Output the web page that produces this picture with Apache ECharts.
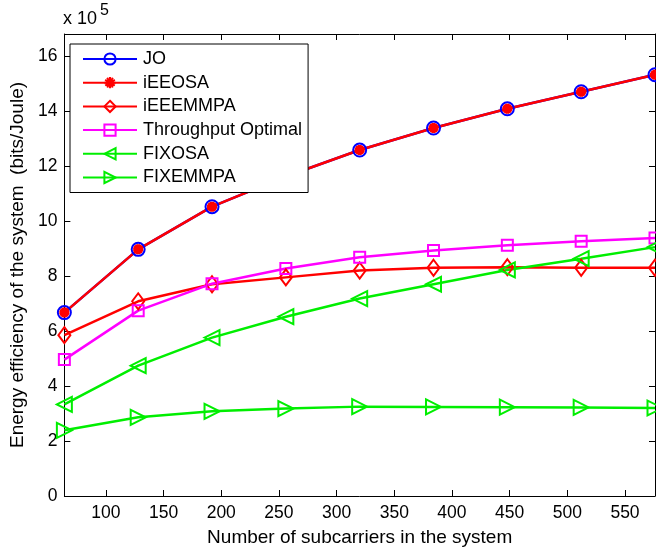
<!DOCTYPE html>
<html><head><meta charset="utf-8">
<script src="https://cdn.jsdelivr.net/npm/echarts@6/dist/echarts.min.js"></script>
<style>html,body{margin:0;padding:0;background:#fff}#c{width:656px;height:552px}</style>
</head><body><div id="c"></div>
<script>
const xValues = [64, 128, 192, 256, 320, 384, 448, 512, 576];
const xTicks = [100, 150, 200, 250, 300, 350, 400, 450, 500, 550];
const yTicks = [0, 2, 4, 6, 8, 10, 12, 14, 16];
const seriesNames = ['JO', 'iEEOSA', 'iEEEMMPA', 'Throughput Optimal', 'FIXOSA', 'FIXEMMPA'];
const JO = [6.67, 8.97, 10.52, 11.62, 12.58, 13.38, 14.08, 14.70, 15.32];
const iEEOSA = [6.67, 8.97, 10.52, 11.62, 12.58, 13.38, 14.08, 14.70, 15.32];
const iEEEMMPA = [5.85, 7.08, 7.70, 7.95, 8.20, 8.30, 8.32, 8.30, 8.30];
const ThroughputOptimal = [4.96, 6.74, 7.72, 8.27, 8.68, 8.93, 9.12, 9.26, 9.38];
const FIXOSA = [3.33, 4.74, 5.76, 6.52, 7.18, 7.70, 8.22, 8.63, 9.05];
const FIXEMMPA = [2.39, 2.86, 3.08, 3.18, 3.25, 3.24, 3.23, 3.22, 3.20];

const FONT = '"Liberation Sans", Arial, sans-serif';
const pairs = arr => xValues.map((x, i) => [x, arr[i]]);
const asterisk = 'path://M0,-10L0,10M-8.7,-5L8.7,5M-8.7,5L8.7,-5M-10,0L10,0M-5,-8.7L5,8.7M-5,8.7L5,-8.7';

function mk(name, data, color, symbol, size, extra) {
  return Object.assign({
    name, type: 'line', data: pairs(data), symbol, symbolSize: size,
    clip: false, animation: false,
    lineStyle: { color, width: 2.5 },
    itemStyle: { color: 'rgba(255,255,255,0)', borderColor: color, borderWidth: 2 },
    emphasis: { disabled: true }
  }, extra || {});
}

const chart = echarts.init(document.getElementById('c'), null, { renderer: 'canvas' });
const axisBase = {
  type: 'value', splitLine: { show: false },
  axisLine: { show: true, onZero: false, lineStyle: { color: '#000', width: 1 } }
};
chart.setOption({
  animation: false,
  textStyle: { fontFamily: FONT },
  grid: { left: 63, top: 34, width: 592, height: 466, containLabel: false },
  xAxis: [
    Object.assign({}, axisBase, {
      min: 64, max: 576, position: 'bottom',
      axisTick: { show: true, inside: true, length: 6, customValues: xTicks, lineStyle: { color: '#000' } },
      axisLabel: { customValues: xTicks, color: '#000', fontSize: 17.5, fontFamily: FONT, margin: 8 },
      name: 'Number of subcarriers in the system', nameLocation: 'middle', nameGap: 32,
      nameTextStyle: { color: '#000', fontSize: 19, fontFamily: FONT }
    }),
    Object.assign({}, axisBase, {
      min: 64, max: 576, position: 'top',
      axisTick: { show: true, inside: true, length: 6, customValues: xTicks, lineStyle: { color: '#000' } },
      axisLabel: { show: false }
    })
  ],
  yAxis: [
    Object.assign({}, axisBase, {
      min: 0, max: 16.8, position: 'left',
      axisTick: { show: true, inside: true, length: 6, customValues: yTicks, lineStyle: { color: '#000' } },
      axisLabel: { customValues: yTicks, color: '#000', fontSize: 17.5, fontFamily: FONT, margin: 7 },
      name: 'Energy efficiency of the system  (bits/Joule)', nameLocation: 'middle', nameGap: 37,
      nameTextStyle: { color: '#000', fontSize: 19, fontFamily: FONT }
    }),
    Object.assign({}, axisBase, {
      min: 0, max: 16.8, position: 'right',
      axisTick: { show: true, inside: true, length: 6, customValues: yTicks, lineStyle: { color: '#000' } },
      axisLabel: { show: false }
    })
  ],
  legend: {
    orient: 'vertical', left: 70, top: 44,
    padding: [6, 6, 6, 12], itemGap: 5.7, itemWidth: 54, itemHeight: 14,
    backgroundColor: '#fff', borderColor: '#000', borderWidth: 1,
    textStyle: { color: '#000', fontSize: 18, fontFamily: FONT, padding: [0, 0, 0, 1] },
    data: seriesNames
  },
  graphic: [
    { type: 'text', left: 63, top: 10, style: { text: 'x 10', fill: '#000', font: '18px ' + FONT } },
    { type: 'text', left: 100, top: 3, style: { text: '5', fill: '#000', font: '16px ' + FONT } }
  ],
  series: [
    mk('JO', JO, '#0000ff', 'circle', 13),
    mk('iEEOSA', iEEOSA, '#ff0000', asterisk, 10, { itemStyle: { color: '#ff0000', borderColor: '#ff0000', borderWidth: 3.5 } }),
    mk('iEEEMMPA', iEEEMMPA, '#ff0000', 'diamond', [12, 16]),
    mk('Throughput Optimal', ThroughputOptimal, '#ff00ff', 'rect', 11),
    mk('FIXOSA', FIXOSA, '#00ee00', 'triangle', [15, 15], { symbolRotate: 90 }),
    mk('FIXEMMPA', FIXEMMPA, '#00ee00', 'triangle', [15, 15], { symbolRotate: -90 })
  ]
});
</script></body></html>
